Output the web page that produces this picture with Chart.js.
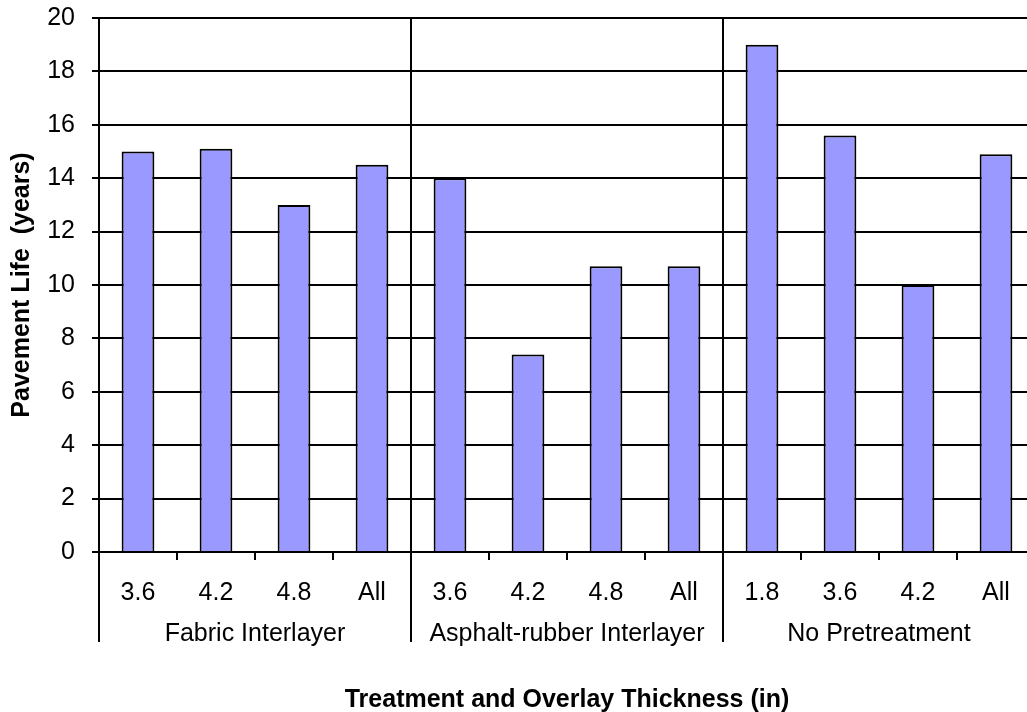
<!DOCTYPE html>
<html>
<head>
<meta charset="utf-8">
<title>Pavement Life</title>
<script src="https://cdn.jsdelivr.net/npm/chart.js@4/dist/chart.umd.min.js"></script>
<style>
  html, body { margin: 0; padding: 0; background: #fff; overflow: hidden; }
  canvas { display: block; }
</style>
</head>
<body>
<canvas id="pavement" width="1040" height="712"></canvas>
<script>
// overlay thickness for each bar, grouped by treatment
const thickness = ["3.6", "4.2", "4.8", "All", "3.6", "4.2", "4.8", "All", "1.8", "3.6", "4.2", "All"];
const groups = ["Fabric Interlayer", "Asphalt-rubber Interlayer", "No Pretreatment"];
const groupSize = [4, 4, 4];
// pavement life in years
const life = [15.0, 15.1, 13.0, 14.5, 14.0, 7.4, 10.7, 10.7, 19.0, 15.6, 10.0, 14.9];
const yMin = 0, yMax = 20, yStep = 2;

const FONT = "'Liberation Sans', Arial, sans-serif";
const SIZE = 25;
Chart.defaults.font.family = FONT;
Chart.defaults.color = "#000";

// second row of category labels plus the separators between treatments
const groupAxis = {
  id: "groupAxis",
  afterDraw(chart) {
    const { ctx, chartArea, scales } = chart;
    const x = scales.x;
    const half = (x.getPixelForValue(1) - x.getPixelForValue(0)) / 2;
    const lineEnd = 642;
    ctx.save();
    ctx.strokeStyle = "#000";
    ctx.lineWidth = 2;
    ctx.beginPath();
    ctx.moveTo(chartArea.left, chartArea.bottom);
    ctx.lineTo(chartArea.left, lineEnd);
    ctx.stroke();

    ctx.fillStyle = "#000";
    ctx.font = SIZE + "px " + FONT;
    ctx.textAlign = "center";
    ctx.textBaseline = "alphabetic";
    let start = 0;
    groups.forEach((name, g) => {
      const end = start + groupSize[g];
      const x0 = x.getPixelForValue(start) - half;
      const x1 = x.getPixelForValue(end - 1) + half;
      if (end < thickness.length) {
        ctx.beginPath();
        ctx.moveTo(x1, chartArea.top);
        ctx.lineTo(x1, lineEnd);
        ctx.stroke();
      }
      ctx.fillText(name, (x0 + x1) / 2, 641);
      start = end;
    });

    ctx.font = "bold " + SIZE + "px " + FONT;
    ctx.fillText("Treatment and Overlay Thickness (in)", (chartArea.left + chartArea.right) / 2, 707);

    ctx.translate(22, (chartArea.top + chartArea.bottom) / 2);
    ctx.rotate(-Math.PI / 2);
    ctx.textBaseline = "middle";
    ctx.fillText("Pavement Life  (years)", 0, 0);
    ctx.restore();
  }
};

new Chart(document.getElementById("pavement"), {
  type: "bar",
  data: {
    labels: thickness,
    datasets: [
      {
        data: life,
        backgroundColor: "#9999FF",
        borderColor: "#000",
        borderWidth: 2,
        barPercentage: 0.42,
        categoryPercentage: 1,
      },
    ],
  },
  options: {
    responsive: false,
    animation: false,
    layout: { padding: { top: 18, right: 5, left: 0, bottom: 0 } },
    plugins: {
      legend: { display: false },
      tooltip: { enabled: false },
    },
    scales: {
      x: {
        afterFit: (scale) => {
          scale.height = 160;
          scale.paddingLeft = 0;
          scale.paddingRight = 0;
        },
        grid: {
          offset: true,
          drawOnChartArea: false,
          drawTicks: true,
          tickLength: 8,
          color: "#000",
          lineWidth: 2,
        },
        border: { display: true, color: "#000", width: 2 },
        ticks: {
          font: { size: SIZE },
          color: "#000",
          padding: 18,
          maxRotation: 0,
          autoSkip: false,
        },
      },
      y: {
        min: yMin,
        max: yMax,
        afterFit: (scale) => {
          scale.width = 99;
          scale.paddingTop = 0;
          scale.paddingBottom = 0;
        },
        grid: {
          color: "#000",
          lineWidth: 2,
          drawTicks: true,
          tickLength: 7,
        },
        border: { display: true, color: "#000", width: 2 },
        ticks: {
          stepSize: yStep,
          font: { size: SIZE },
          color: "#000",
          padding: 17,
        },
      },
    },
  },
  plugins: [groupAxis],
});
</script>
</body>
</html>
